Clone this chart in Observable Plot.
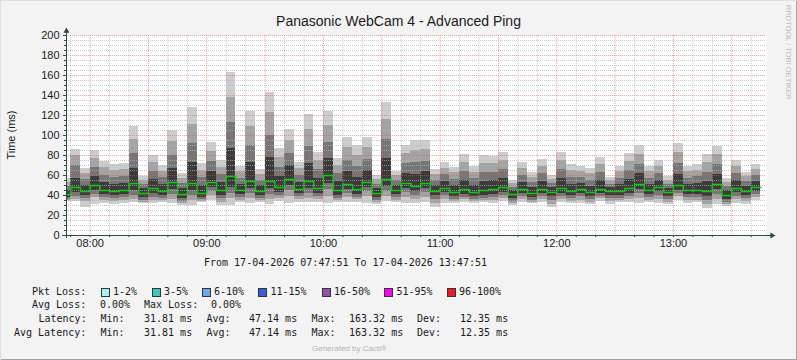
<!DOCTYPE html>
<html><head><meta charset="utf-8">
<script src="https://cdn.jsdelivr.net/npm/d3@7"></script>
<script src="https://cdn.jsdelivr.net/npm/@observablehq/plot@0.6"></script>
<style>
html,body{margin:0;padding:0;background:#f3f3f3;}
#wrap{position:relative;width:797px;height:360px;background:#f3f3f3;overflow:hidden;}
#wrap svg{position:absolute;left:0;top:0;}
.edge{position:absolute;left:0;top:0;width:797px;height:360px;box-sizing:border-box;box-shadow:inset 1px 1px 0 #dedede, inset -1px -1px 0 #a3a3a3;pointer-events:none;}
.m{position:absolute;white-space:pre;font-family:"DejaVu Sans Mono",monospace;font-size:10px;line-height:12px;height:12px;color:#1a1a1a;}
.box{position:absolute;width:7px;height:7px;border:1px solid #2a3a36;}
#title{position:absolute;left:0;top:12px;width:797px;text-align:center;font-family:"Liberation Sans",Arial,sans-serif;font-size:14px;line-height:18px;color:#1a1a1a;}
#ylab{position:absolute;left:11px;top:135px;transform:translate(-50%,-50%) rotate(-90deg);font-family:"Liberation Sans",Arial,sans-serif;font-size:11px;white-space:nowrap;color:#1a1a1a;}
#rrd{position:absolute;left:784px;top:5px;writing-mode:vertical-rl;font-family:"Liberation Sans",Arial,sans-serif;font-size:7.5px;color:#bcbcbc;white-space:nowrap;}
#gen{position:absolute;left:312px;top:344px;font-family:"Liberation Sans",Arial,sans-serif;font-size:8px;color:#b4b4b4;white-space:nowrap;}
</style>
</head><body>
<div id="wrap">
  <div id="title">Panasonic WebCam 4 - Advanced Ping</div>
  <div id="ylab">Time (ms)</div>
  <div id="rrd">RRDTOOL / TOBI OETIKER</div>
  <div id="gen">Generated by Cacti®</div>
</div>
<script>
// ---- data (5-minute buckets, start times) ----
const times = ["07:45","07:50","07:55","08:00","08:05","08:10","08:15","08:20","08:25","08:30","08:35","08:40",
  "08:45","08:50","08:55","09:00","09:05","09:10","09:15","09:20","09:25","09:30","09:35","09:40",
  "09:45","09:50","09:55","10:00","10:05","10:10","10:15","10:20","10:25","10:30","10:35","10:40",
  "10:45","10:50","10:55","11:00","11:05","11:10","11:15","11:20","11:25","11:30","11:35","11:40",
  "11:45","11:50","11:55","12:00","12:05","12:10","12:15","12:20","12:25","12:30","12:35","12:40",
  "12:45","12:50","12:55","13:00","13:05","13:10","13:15","13:20","13:25","13:30","13:35","13:40"];
const maxv = [57,86,67,85,74,71,72,109,59,80,70,105, 62,128,72,93,75,163,69,124,66,143,87,106,
  73,121,83,124,77,98,90,98,60,133,64,90, 95,95,66,73,68,81,69,80,79,83,55,73,
  63,76,60,83,71,69,67,78,58,69,82,90, 69,75,59,92,69,71,81,89,57,75,63,71];
const up1 = [53,80,62,77,68,65,66,96,55,73,64,94, 57,111,65,84,68,138,64,109,61,123,78,95,
  67,106,75,110,70,88,80,88,56,116,60,82, 85,86,61,67,63,73,63,72,72,75,52,67,
  58,69,56,75,65,64,62,71,55,64,74,81, 64,69,55,83,64,65,73,81,53,69,59,66];
const up2 = [49,70,56,68,60,58,59,82,51,64,58,80, 52,92,58,74,61,113,57,90,55,100,68,82,
  60,89,66,93,62,75,69,76,51,96,55,72, 73,74,55,61,56,64,57,63,63,66,48,60,
  53,62,52,66,58,58,55,63,51,57,65,71, 57,62,51,72,57,59,63,71,49,62,54,60];
const up3 = [45,57,50,59,53,51,52,67,47,56,51,67, 47,73,50,64,53,87,51,73,50,78,59,70,
  53,72,57,77,54,64,58,65,47,77,50,62, 61,64,50,54,50,55,50,54,55,57,45,53,
  48,54,48,57,51,52,49,55,48,51,56,62, 51,55,47,61,51,52,54,61,45,55,49,54];
const med = [41,48,44,50,45,44,45,52,42,47,44,53, 41,52,42,53,45,59,45,54,44,54,48,56,
  46,54,47,60,45,51,46,53,42,56,45,52, 49,52,44,47,43,46,43,45,46,48,41,46,
  42,46,43,47,44,46,43,46,44,44,47,51, 45,48,43,50,45,45,44,51,40,47,44,48];
const lo3 = [38,43,40,45,41,40,41,45,38,42,40,46, 37,45,38,48,40,48,41,47,40,47,43,50,
  42,47,42,52,40,46,41,48,38,49,41,47, 44,47,40,43,39,41,39,40,41,43,37,42,
  38,42,39,42,40,42,39,42,40,40,42,46, 41,44,39,45,41,41,39,46,36,43,40,44];
const lo2 = [36,39,37,41,38,37,38,40,35,38,37,41, 34,40,36,44,37,42,38,42,37,41,40,45,
  39,42,39,46,37,42,38,44,35,44,38,43, 40,43,36,40,36,38,36,37,38,40,34,39,
  35,39,35,39,37,39,36,39,37,37,39,42, 38,40,36,42,38,38,35,41,33,39,37,41];
const lo1 = [35,36,34,38,35,34,35,36,33,35,35,36, 32,35,34,40,33,37,35,37,35,36,37,39,
  36,37,36,39,35,38,36,39,33,39,35,38, 36,38,32,36,34,36,34,35,35,37,32,36,
  33,36,31,36,34,35,33,37,34,35,36,37, 35,36,33,39,35,35,31,36,31,36,34,38];
const minv = [34,34,28,31,32,31,32,33,32,32,33,32, 30,30,33,35,30,30,33,32,33,31,34,32,
  33,33,33,32,33,33,33,32,31,34,33,32, 32,33,28,32,32,33,32,33,32,34,30,33,
  32,33,28,33,32,32,31,34,31,33,33,32, 33,32,31,35,32,33,27,31,29,32,31,35];

const lossLabels = ["1-2%","3-5%","6-10%","11-15%","16-50%","51-95%","96-100%"];
const lossColors = ["#aeeeee","#40c8c0","#6ea8e8","#3c5fd8","#9651a5","#ff00ff","#ee1c2a"];
const rangeText = "From 17-04-2026 07:47:51 To 17-04-2026 13:47:51";
const avgLoss = "0.00%", maxLoss = "0.00%";
const latency = {min: "31.81 ms", avg: "47.14 ms", max: "163.32 ms", dev: "12.35 ms"};
const avgLatency = {min: "31.81 ms", avg: "47.14 ms", max: "163.32 ms", dev: "12.35 ms"};
const yTicks = [0,20,40,60,80,100,120,140,160,180,200];
const xTicks = ["08:00","09:00","10:00","11:00","12:00","13:00"];

// ---- build ----
const T = s => { const [h,m,sec=0] = s.split(":").map(Number); return new Date(Date.UTC(2026,3,17,h,m,sec)); };
const start = T("07:47:51"), end = T("13:47:51");
const STEP = 5*60000;
const rows = times.map((s,i) => ({t0: T(s), t1: new Date(T(s).getTime()+STEP),
  maxv: maxv[i], up1: up1[i], up2: up2[i], up3: up3[i], med: med[i],
  lo3: lo3[i], lo2: lo2[i], lo1: lo1[i], minv: minv[i]}));
const medPts = rows.map(r => ({t: r.t0, v: r.med}));
medPts.push({t: rows[rows.length-1].t1, v: med[med.length-1]});

const bands = [
  {lo: "minv", hi: "maxv", fill: "#cdcdcd"},
  {lo: "lo1", hi: "up1", fill: "#a3a3a3"},
  {lo: "lo2", hi: "up2", fill: "#767676"},
  {lo: "lo3", hi: "up3", fill: "#3b3b3b"}
];
const minorY = d3.range(5, 201, 5).filter(v => v % 20 !== 0);
const majorY = yTicks.filter(v => v > 0);
const allX = d3.utcMinute.every(10).range(T("07:50"), end);
const minorX = allX.filter(d => d.getUTCMinutes() % 30 !== 0);
const majorX = allX.filter(d => d.getUTCMinutes() % 30 === 0);
const axisColor = "#2e4a44";
const fmt = d3.utcFormat("%H:%M");

const chart = Plot.plot({
  width: 797, height: 255,
  marginLeft: 66, marginRight: 31, marginTop: 35, marginBottom: 20,
  x: {type: "utc", domain: [start, end]},
  y: {domain: [0, 200]},
  style: {background: "transparent", fontFamily: "Liberation Sans, Arial, sans-serif", fontSize: "11px", color: "#1a1a1a", overflow: "visible"},
  marks: [
    Plot.frame({fill: "white", stroke: null}),
    ...bands.map(b => Plot.rect(rows, {x1: "t0", x2: "t1", y1: b.lo, y2: b.hi, fill: b.fill, inset: 0, clip: true, shapeRendering: "crispEdges"})),
    Plot.ruleY(minorY, {stroke: "#b4b4b4", strokeOpacity: 0.7, strokeDasharray: "1,1"}),
    Plot.ruleX(minorX, {stroke: "#b4b4b4", strokeOpacity: 0.7, strokeDasharray: "1,1"}),
    Plot.ruleY(majorY, {stroke: "#ee4a4a", strokeOpacity: 0.5, strokeDasharray: "1,1"}),
    Plot.ruleX(majorX, {stroke: "#ee4a4a", strokeOpacity: 0.5, strokeDasharray: "1,1"}),
    Plot.line(medPts, {x: "t", y: "v", curve: "step-after", stroke: "#14c814", strokeWidth: 1.4, clip: true}),
    Plot.ruleY([0], {x1: new Date(start.getTime()-2*60000), x2: new Date(end.getTime()+3*60000), stroke: axisColor}),
    Plot.ruleX([start], {y1: -3, y2: 205, stroke: axisColor}),
    Plot.dot([{x: start, y: 204.5}], {x: "x", y: "y", symbol: "triangle", r: 2.2, fill: axisColor, stroke: null}),
    Plot.dot([{x: new Date(end.getTime()+170000), y: 0}], {x: "x", y: "y", symbol: "triangle", r: 2.2, fill: axisColor, stroke: null, rotate: 90}),
    Plot.axisY(minorY, {tickSize: 2, tickFormat: () => "", stroke: axisColor}),
    Plot.axisY(yTicks, {tickSize: 3, tickPadding: 4, fontSize: 11, label: null, stroke: axisColor}),
    Plot.axisX(minorX, {tickSize: 2, tickFormat: () => "", stroke: axisColor}),
    Plot.axisX(xTicks.map(T), {tickSize: 2, tickPadding: 2, fontSize: 11, tickFormat: fmt, label: null, stroke: axisColor})
  ]
});
const wrap = document.getElementById("wrap");
wrap.insertBefore(chart, wrap.firstChild);

// ---- legend text ----
function txt(s, x, cy) {
  const d = document.createElement("div");
  d.className = "m"; d.textContent = s;
  d.style.left = x + "px"; d.style.top = (cy - 6) + "px";
  wrap.appendChild(d);
}
function box(color, x, cy) {
  const d = document.createElement("div");
  d.className = "box"; d.style.background = color;
  d.style.left = x + "px"; d.style.top = (cy - 4) + "px";
  wrap.appendChild(d);
}
txt(rangeText, 204, 263);
txt("Pkt Loss:", 32, 291.5);
const boxX = [100.5, 151.5, 201.5, 258, 321.5, 384, 446.5];
lossLabels.forEach((l, i) => { box(lossColors[i], boxX[i], 291.5); txt(l, boxX[i] + 12.5, 291.5); });
txt("Avg Loss:", 32, 304.5); txt(avgLoss, 100, 304.5); txt("Max Loss:", 144, 304.5); txt(maxLoss, 211, 304.5);
function latLine(label, x, cy, o) {
  txt(label, x, cy);
  txt("Min:", 100.5, cy); txt(o.min, 144, cy);
  txt("Avg:", 206.5, cy); txt(o.avg, 249, cy);
  txt("Max:", 311.5, cy); txt(o.max, 349, cy);
  txt("Dev:", 417, cy); txt(o.dev, 460, cy);
}
latLine("Latency:", 38.5, 319, latency);
latLine("Avg Latency:", 14, 332.5, avgLatency);
const edge = document.createElement("div"); edge.className = "edge"; wrap.appendChild(edge);
</script>
</body></html>
